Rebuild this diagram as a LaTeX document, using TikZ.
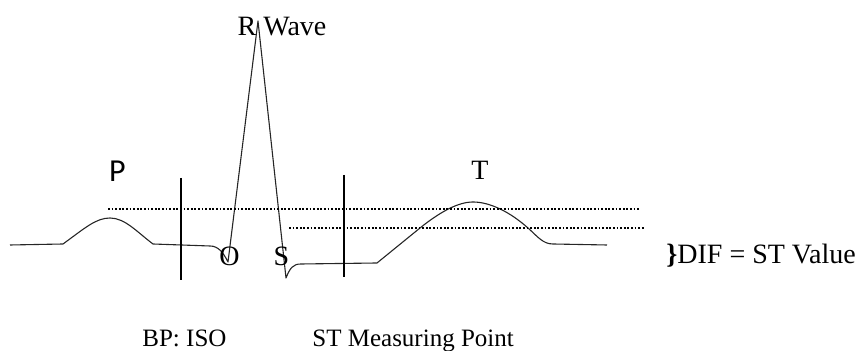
\documentclass[tikz,border=0pt]{standalone}
\usepackage{fontspec}
\setmainfont{Liberation Serif}
\newfontfamily\sanslab{Carlito}
\usetikzlibrary{positioning}

\begin{document}
\begin{tikzpicture}[x=0.5pt,y=-0.5pt,
  font=\fontsize{14}{16}\selectfont,
  wave/.style={line width=0.55pt,color=black!85,line join=round},
  tick/.style={line width=1.1pt,color=black},
  level/.style={line width=0.9pt,dash pattern=on 0.9pt off 0.9pt,color=black},
  lab/.style={inner sep=0pt,anchor=base},
  lablft/.style={inner sep=0pt,anchor=base west}]
  \useasboundingbox (0,0) rectangle (858,351);
  % ecg trace
  \draw[wave] (10,245) -- (63,244)
    .. controls (85,228) and (96,218) .. (110,218)
    .. controls (125,218) and (137,232) .. (153,244)
    -- (210,246) .. controls (218,246) and (223,252) .. (228,262)
    -- (258,21) -- (286,278)
    .. controls (290,268) and (293,264) .. (301,264)
    -- (377,263) -- (420,228)
    .. controls (440,212) and (458,202) .. (473,202)
    .. controls (490,202) and (510,212) .. (528,228)
    .. controls (538,237) and (543,244) .. (553,244) -- (607,245);
  % iso and st points
  \draw[tick] (181,178) -- (181,280);
  \draw[tick] (344,175) -- (344,277);
  % levels
  \draw[level] (108,209) -- (640,209);
  \draw[level] (289,228) -- (645,228);
  % labels
  \node[lab,font=\sanslab\fontsize{16}{18}\selectfont] (pwave) at (117.5,182) {P};
  \node[lab] (rwave) at (282,36) {R Wave};
  \node[lab] (qwave) at (229.5,266) {O};
  \node[lab] (swave) at (281.5,266) {S};
  \node[lab] (twave) at (480,180) {T};
  \node[lablft] (dif) at (666,264) {\textbf{\}}DIF = ST Value};
  \node[lablft,font=\fontsize{12.5}{14}\selectfont] (iso) at (142,347) {BP: ISO};
  \node[lablft,font=\fontsize{12.5}{14}\selectfont] (stpt) at (312,347) {ST Measuring Point};
\end{tikzpicture}
\end{document}
